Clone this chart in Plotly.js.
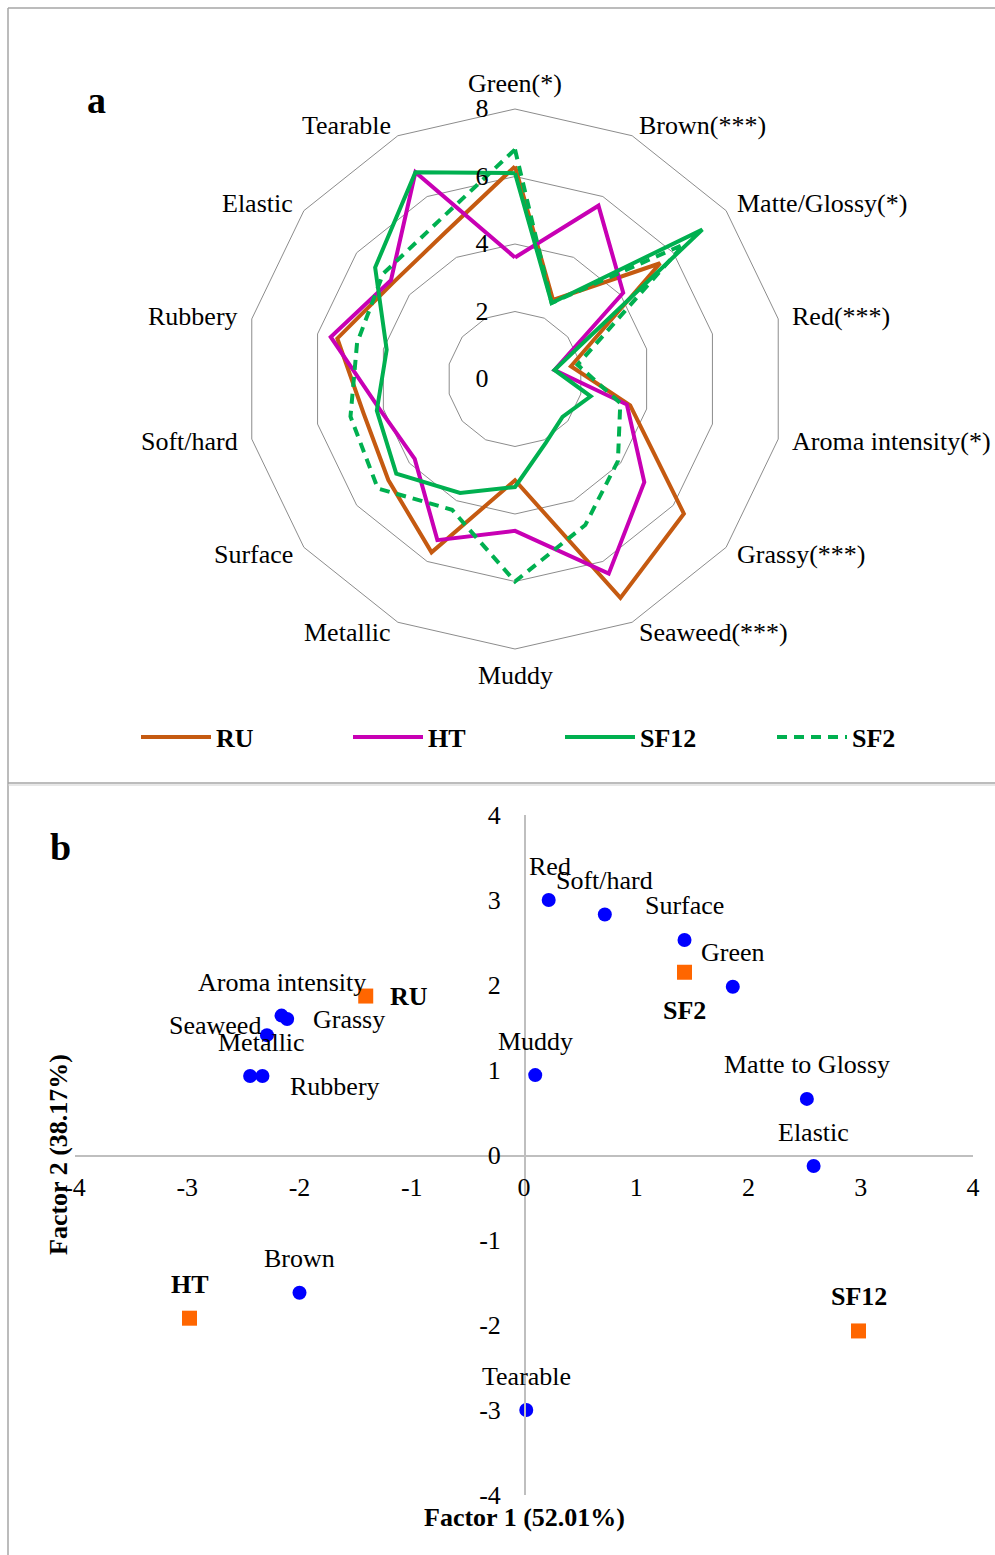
<!DOCTYPE html>
<html>
<head>
<meta charset="utf-8">
<script src="https://cdn.plot.ly/plotly-3.0.1.min.js"></script>
<style>html,body{margin:0;padding:0;background:#fff;}#chart{width:995px;height:1555px;}</style>
</head>
<body>
<div id="chart"></div>
<script>
// ---------- Panel a : sensory profile (radar) ----------
const categories = ['Green(*)','Brown(***)','Matte/Glossy(*)','Red(***)','Aroma intensity(*)','Grassy(***)','Seaweed(***)','Muddy','Metallic','Surface','Soft/hard','Rubbery','Elastic','Tearable'];
const RU   = [6.3, 2.6, 5.5, 1.7, 3.5, 6.4, 7.2, 3.0, 5.7, 4.8, 4.6, 5.4, 4.6, 4.8];
const HT   = [3.6, 5.7, 4.1, 1.2, 3.4, 4.9, 6.4, 4.5, 5.3, 3.8, 4.1, 5.6, 4.7, 6.8];
const SF12 = [6.1, 2.5, 7.1, 1.2, 2.3, 1.8, 2.1, 3.2, 3.75, 4.5, 4.2, 3.9, 5.3, 6.8];
const SF2  = [6.8, 2.5, 6.4, 1.9, 3.2, 3.9, 4.8, 6.0, 4.3, 5.2, 5.0, 4.8, 5.0, 5.2];
const radialTicks = [0, 2, 4, 6, 8];

// ---------- Panel b : PCA biplot ----------
const attrNames = ['Red','Soft/hard','Surface','Green','Muddy','Matte to Glossy','Elastic','Tearable','Brown','Aroma intensity','Grassy','Seaweed','Metallic','Rubbery'];
const attrF1 = [0.22, 0.72, 1.43, 1.86, 0.10, 2.52, 2.58, 0.02, -2.00, -2.16, -2.11, -2.29, -2.33, -2.44];
const attrF2 = [3.00, 2.83, 2.53, 1.98, 0.94, 0.66, -0.13, -3.00, -1.62, 1.64, 1.60, 1.41, 0.93, 0.93];
const prodNames = ['RU','SF2','HT','SF12'];
const prodF1 = [-1.41, 1.43, -2.98, 2.98];
const prodF2 = [1.87, 2.15, -1.92, -2.07];
const axisTicks = [-4, -3, -2, -1, 0, 1, 2, 3, 4];

// ---------- styles ----------
const FONT = 'Liberation Serif, Times New Roman, serif';
const seriesStyle = [
  {name:'RU',   data:RU,   color:'#C55A11', dash:'solid'},
  {name:'HT',   data:HT,   color:'#C800B4', dash:'solid'},
  {name:'SF12', data:SF12, color:'#00B050', dash:'solid'},
  {name:'SF2',  data:SF2,  color:'#00B050', dash:'10px,7px'}
];
// label offsets (pixels) for the biplot annotations: [xshift, yshift, xanchor]
const attrLabelPos = [[1,34,'center'],[0,34,'center'],[0,34,'center'],[0,34,'center'],[0,34,'center'],[0,34,'center'],[0,34,'center'],[0,34,'center'],[0,34,'center'],[0,33,'center'],[24,0,'left'],[-4,10,'right'],[-1,33,'center'],[38,-11,'left']];
const prodLabelPos = [[22,0,'left'],[0,-38,'center'],[0,34,'center'],[0,34,'center']];

const traces = seriesStyle.map(s => ({
  type:'scatterpolar',
  r: s.data.concat([s.data[0]]),
  theta: categories.concat([categories[0]]),
  mode:'lines',
  name:s.name,
  line:{color:s.color, width:4, dash:s.dash},
  subplot:'polar',
  hoverinfo:'skip'
}));

traces.push({
  type:'scatter', x:attrF1, y:attrF2, mode:'markers', name:'attributes',
  marker:{color:'#0000FF', size:14, symbol:'circle'},
  showlegend:false, xaxis:'x', yaxis:'y', hoverinfo:'skip'
});
traces.push({
  type:'scatter', x:prodF1, y:prodF2, mode:'markers', name:'products',
  marker:{color:'#FF6600', size:15, symbol:'square'},
  showlegend:false, xaxis:'x', yaxis:'y', hoverinfo:'skip'
});

const W = 995, H = 1555;
const px = v => v / W, py = v => 1 - v / H;
const R = 270, cx = 515, cy = 379;

const annotations = [];
// category labels of the radar, placed just outside each outer vertex
const N = categories.length;
categories.forEach((c, i) => {
  const th = i * 2 * Math.PI / N, s = Math.sin(th), co = Math.cos(th);
  const vx = cx + R * s, vy = cy - R * co;
  let x, y, anchor;
  if (Math.abs(s) < 0.01) { x = vx; y = vy - 26 * co; anchor = 'center'; }
  else { x = vx + 13 * s; y = vy - 11 * co; anchor = s > 0 ? 'left' : 'right'; }
  annotations.push({x:px(x), y:py(y), xref:'paper', yref:'paper', text:c, showarrow:false,
    xanchor:anchor, yanchor:'middle', borderpad:0, font:{family:FONT, size:26, color:'#000'}});
});
attrNames.forEach((n,i) => annotations.push({
  x:attrF1[i], y:attrF2[i], xref:'x', yref:'y', text:n, showarrow:false,
  xshift:attrLabelPos[i][0], yshift:attrLabelPos[i][1], xanchor:attrLabelPos[i][2], yanchor:'middle',
  font:{family:FONT, size:26, color:'#000'}
}));
prodNames.forEach((n,i) => annotations.push({
  x:prodF1[i], y:prodF2[i], xref:'x', yref:'y', text:'<b>'+n+'</b>', showarrow:false,
  xshift:prodLabelPos[i][0], yshift:prodLabelPos[i][1], xanchor:prodLabelPos[i][2], yanchor:'middle',
  font:{family:FONT, size:26, color:'#000'}
}));
annotations.push({x:px(96), y:py(100), xref:'paper', yref:'paper', text:'<b>a</b>', showarrow:false, xanchor:'center', yanchor:'middle', font:{family:FONT, size:38, color:'#000'}});
annotations.push({x:px(60), y:py(847), xref:'paper', yref:'paper', text:'<b>b</b>', showarrow:false, xanchor:'center', yanchor:'middle', font:{family:FONT, size:38, color:'#000'}});
annotations.push({x:px(524), y:py(1517), xref:'paper', yref:'paper', text:'<b>Factor 1 (52.01%)</b>', showarrow:false, xanchor:'center', yanchor:'middle', font:{family:FONT, size:26, color:'#000'}});
annotations.push({x:px(58), y:py(1155), xref:'paper', yref:'paper', text:'<b>Factor 2 (38.17%)</b>', textangle:-90, showarrow:false, xanchor:'center', yanchor:'middle', font:{family:FONT, size:26, color:'#000'}});

const border = '#A6A6A6';
const shapes = [
  {type:'line', xref:'paper', yref:'paper', x0:px(8), x1:px(8), y0:py(8), y1:0, line:{color:border, width:1.5}},
  {type:'line', xref:'paper', yref:'paper', x0:px(8), x1:1, y0:py(8), y1:py(8), line:{color:border, width:1.5}},
  {type:'line', xref:'paper', yref:'paper', x0:px(8), x1:1, y0:py(783), y1:py(783), line:{color:border, width:1.5}},
  {type:'line', xref:'paper', yref:'paper', x0:px(8), x1:1, y0:py(785), y1:py(785), line:{color:'#D0D0D0', width:1}}
];

const tickText = axisTicks.map(v => String(v));

const layout = {
  width:W, height:H,
  margin:{l:0, r:0, t:0, b:0, pad:0},
  paper_bgcolor:'#fff', plot_bgcolor:'#fff',
  font:{family:FONT, size:26, color:'#000'},
  showlegend:true,
  legend:{orientation:'h', x:px(136), y:py(737), xanchor:'left', yanchor:'middle',
          font:{family:FONT, size:26, color:'#000', weight:'bold'},
          itemwidth:70, entrywidth:127, entrywidthmode:'pixels', bgcolor:'rgba(0,0,0,0)', borderwidth:0},
  polar:{
    domain:{x:[px(cx-R), px(cx+R)], y:[py(cy+R), py(cy-R)]},
    bgcolor:'rgba(0,0,0,0)',
    gridshape:'linear',
    angularaxis:{type:'category', categoryarray:categories, rotation:90, direction:'clockwise',
      showgrid:false, showline:true, linecolor:'#8C8C8C', linewidth:1, ticks:'', showticklabels:false},
    radialaxis:{range:[0,8], tickvals:radialTicks, angle:90, side:'counterclockwise',
      showline:false, showgrid:true, gridcolor:'#8C8C8C', gridwidth:1,
      ticks:'outside', ticklen:17, tickcolor:'rgba(0,0,0,0)', tickangle:90,
      tickfont:{family:FONT, size:26, color:'#000'}}
  },
  xaxis:{domain:[px(75), px(973)], range:[-4,4], anchor:'free', position:py(1155),
    showgrid:false, zeroline:false, showline:true, linecolor:'#BFBFBF', linewidth:1.5,
    tickvals:axisTicks, ticktext:tickText, ticks:'outside', ticklen:8, tickcolor:'rgba(0,0,0,0)',
    tickfont:{family:FONT, size:26, color:'#000'}},
  yaxis:{domain:[py(1495), py(815)], range:[-4,4], anchor:'free', position:px(524),
    showgrid:false, zeroline:false, showline:true, linecolor:'#BFBFBF', linewidth:1.5,
    tickvals:axisTicks, ticktext:tickText, ticks:'outside', ticklen:18, tickcolor:'rgba(0,0,0,0)',
    tickfont:{family:FONT, size:26, color:'#000'}},
  annotations:annotations,
  shapes:shapes
};

Plotly.newPlot('chart', traces, layout, {displayModeBar:false, staticPlot:true});
</script>
</body>
</html>
